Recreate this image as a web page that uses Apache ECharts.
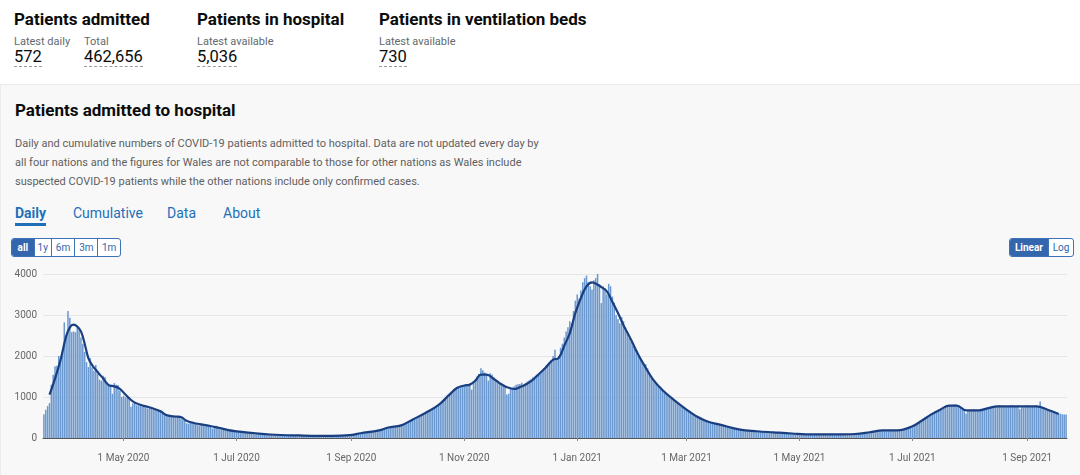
<!DOCTYPE html>
<html><head><meta charset="utf-8">
<script src="https://cdn.jsdelivr.net/npm/echarts@6/dist/echarts.min.js"></script>
<style>
body{margin:0;width:1080px;height:475px;overflow:hidden;background:#fff;font-family:Roboto,"Noto Sans",sans-serif;color:#0b0c0c;position:relative}
.a{position:absolute;white-space:nowrap}
.h{font-size:17px;font-weight:700;line-height:20px}
.lbl{font-size:11px;color:#626a6e;line-height:13px}
.num{font-size:16.5px;line-height:18px;border-bottom:1px dashed #9a9a9a}
#panel{position:absolute;left:0;top:84px;width:1079px;height:391px;background:#f8f8f8;border-top:1px solid #ececec;border-left:1px solid #ececec}
.desc{font-size:11px;line-height:19px;color:#5f5f5f}
.tab{font-size:14px;line-height:16px;color:#1d70b8}
.tab.on{font-weight:700;border-bottom:3px solid #1d70b8;padding-bottom:2px}
.grp{position:absolute;top:238px;height:17px;display:flex;border:1px solid #3d72b8;border-radius:3px;overflow:hidden;background:#fff}
.grp span{font-size:10px;line-height:17px;color:#2f65ad;text-align:center;border-left:1px solid #3d72b8;box-sizing:border-box}
.grp span:first-child{border-left:none}
.grp span.on{background:#3466ae;color:#fff;font-weight:700}
#chart{position:absolute;left:0;top:262px;width:1080px;height:213px}
</style></head>
<body>
<div class="a h" style="left:14px;top:9px">Patients admitted</div>
<div class="a lbl" style="left:14px;top:35px">Latest daily</div>
<div class="a lbl" style="left:84px;top:35px">Total</div>
<div class="a num" style="left:14px;top:48px">572</div>
<div class="a num" style="left:84px;top:48px">462,656</div>
<div class="a h" style="left:197px;top:9px">Patients in hospital</div>
<div class="a lbl" style="left:197px;top:35px">Latest available</div>
<div class="a num" style="left:197px;top:48px">5,036</div>
<div class="a h" style="left:379px;top:9px">Patients in ventilation beds</div>
<div class="a lbl" style="left:379px;top:35px">Latest available</div>
<div class="a num" style="left:379px;top:48px">730</div>
<div id="panel"></div>
<div class="a h" style="left:15px;top:100px">Patients admitted to hospital</div>
<div class="a desc" style="left:15px;top:134px">Daily and cumulative numbers of COVID-19 patients admitted to hospital. Data are not updated every day by<br>all four nations and the figures for Wales are not comparable to those for other nations as Wales include<br>suspected COVID-19 patients while the other nations include only confirmed cases.</div>
<div class="a tab on" style="left:15px;top:205px">Daily</div>
<div class="a tab" style="left:73px;top:205px">Cumulative</div>
<div class="a tab" style="left:167px;top:205px">Data</div>
<div class="a tab" style="left:223px;top:205px">About</div>
<div class="grp" style="left:11px;width:108px"><span class="on" style="width:22px">all</span><span style="width:17px">1y</span><span style="width:24px">6m</span><span style="width:23px">3m</span><span style="width:23px">1m</span></div>
<div class="grp" style="left:1009px;width:63px"><span class="on" style="width:38px">Linear</span><span style="width:25px">Log</span></div>
<div id="chart"></div>
<script>
// first day of the daily series
const startDate = '2020-03-19';
// daily COVID-19 hospital admissions, one row per month
const dailyAdmissions = [
  580,690,780,850,1300,1540,1750,1760,2000,1900,2100,2820,2480, // Mar 2020 (from 19th)
  3100,2930,2580,2600,2580,2740,2650,2450,2300,2100,1850,1730,1950,1720,1640,1780,1560,1420,1400,1520,1490,1330,1290,1300,1080,1340,1300,1290,1150,1000, // Apr
  1030,990,1010,980,760,840,860,800,790,780,770,760,740,720,740,730,700,690,680,660,640,600,560,560,540,560,540,510,490,500,550, // May
  470,450,420,360,350,370,390,360,350,320,300,340,330,300,290,280,290,230,280,300,270,250,240,230,210,200,190,180,170,160, // Jun
  160,150,150,140,130,130,125,120,120,115,110,105,100,95,95,90,90,85,85,80,80,80,75,75,75,70,70,70,70,65,65, // Jul
  65,65,60,60,60,60,60,55,55,55,55,55,55,50,50,50,50,50,45,45,50,50,55,50,55,55,60,60,65,70,75, // Aug
  80,85,95,100,105,115,120,130,140,150,160,165,170,175,180,190,200,210,225,240,255,270,280,290,295,300,305,320,340,360, // Sep
  390,410,430,450,470,490,510,530,560,580,610,640,660,690,720,750,780,810,840,870,900,940,980,1050,1100,1150,1190,1220,1250,1280,1270, // Oct
  1290,1320,1300,1340,1180,1360,1420,1500,1560,1700,1650,1600,1560,1400,1580,1550,1480,1420,1400,1330,1300,1280,1250,1060,1080,1200,1230,1260,1300,1310, // Nov
  1320,1350,1300,1340,1380,1400,1430,1480,1500,1540,1560,1600,1640,1700,1760,1800,1850,1900,2000,2150,1950,2000,2200,2300,2450,2600,2700,2850,2800,3100,3350, // Dec
  3500,3400,3600,3800,3900,3960,3800,3700,3620,3850,3900,4130,3750,3290,3700,3650,3500,3760,3700,3450,3300,3000,2900,2800,2950,2850,2700,2550,2450,2350,2250, // Jan 2021
  2200,2150,2000,1950,1850,1750,1800,1700,1600,1500,1420,1350,1300,1250,1250,1180,1120,1080,1030,980,960,930,900,840,800,770,740,720, // Feb
  690,660,640,600,580,550,540,520,500,470,440,420,400,380,370,360,350,340,330,310,300,290,280,270,260,250,240,230,215,205,195, // Mar
  190,185,175,170,165,160,160,155,150,148,145,142,140,140,138,138,135,132,130,128,125,122,120,118,115,112,110,108,105,102, // Apr
  100,98,96,95,93,92,90,90,89,88,87,86,85,85,85,84,84,85,86,86,87,88,89,90,91,92,93,94,95,96,98, // May
  100,105,110,115,120,125,130,135,140,148,155,162,170,176,182,187,190,190,188,187,186,186,187,190,200,215,230,245,260,275, // Jun
  290,320,350,380,410,440,470,500,530,560,590,610,640,660,680,700,720,740,760,780,790,800,810,820,800,780,760,740,710,600,670, // Jul
  680,690,700,680,670,680,690,700,720,740,750,760,770,770,780,790,800,790,780,770,760,780,790,800,760,780,790,700,780,750,790, // Aug
  790,780,770,780,760,800,780,890,760,740,700,700,680,670,650,630,620,600,590,580,575,572 // Sep (to 22nd)
];
// 7-day average line
const avgLine = [
  ['2020-03-22',1057],['2020-03-25',1450],['2020-03-28',1910],['2020-03-31',2480],['2020-04-02',2700],['2020-04-04',2764],
  ['2020-04-06',2720],['2020-04-08',2600],['2020-04-10',2300],['2020-04-12',1950],['2020-04-14',1780],['2020-04-17',1610],
  ['2020-04-20',1450],['2020-04-23',1290],['2020-04-26',1260],['2020-04-29',1200],['2020-05-02',1060],['2020-05-06',894],
  ['2020-05-10',810],['2020-05-13',772],['2020-05-17',720],['2020-05-21',650],['2020-05-24',560],['2020-05-28',528],
  ['2020-06-01',510],['2020-06-04',420],['2020-06-08',366],['2020-06-11',340],['2020-06-15',309],['2020-06-18',280],
  ['2020-06-22',244],['2020-06-26',200],['2020-07-01',163],['2020-07-10',122],['2020-07-19',85],['2020-08-04',62],
  ['2020-08-22',50],['2020-08-31',68],['2020-09-06',115],['2020-09-16',187],['2020-09-21',255],['2020-09-28',309],
  ['2020-10-04',447],['2020-10-11',610],['2020-10-18',800],['2020-10-24',1057],['2020-10-28',1220],['2020-11-01',1280],
  ['2020-11-04',1300],['2020-11-07',1400],['2020-11-10',1545],['2020-11-13',1545],['2020-11-17',1440],['2020-11-20',1340],
  ['2020-11-24',1240],['2020-11-28',1195],['2020-12-01',1240],['2020-12-04',1300],['2020-12-08',1420],['2020-12-11',1545],
  ['2020-12-15',1720],['2020-12-19',1910],['2020-12-22',1950],['2020-12-25',2250],['2020-12-28',2560],['2020-12-31',3050],
  ['2021-01-03',3414],['2021-01-06',3700],['2021-01-09',3797],['2021-01-12',3740],['2021-01-14',3680],['2021-01-17',3577],
  ['2021-01-20',3320],['2021-01-23',3049],['2021-01-26',2750],['2021-01-30',2400],['2021-02-03',2030],['2021-02-06',1789],
  ['2021-02-11',1423],['2021-02-16',1170],['2021-02-22',935],['2021-03-01',691],['2021-03-06',540],['2021-03-12',407],
  ['2021-03-19',325],['2021-03-30',203],['2021-04-08',165],['2021-04-17',138],['2021-04-27',110],['2021-05-08',89],
  ['2021-05-20',88],['2021-05-31',98],['2021-06-08',140],['2021-06-15',187],['2021-06-23',187],['2021-07-01',285],
  ['2021-07-06',420],['2021-07-11',569],['2021-07-16',690],['2021-07-21',789],['2021-07-25',789],['2021-07-30',675],
  ['2021-08-06',675],['2021-08-11',730],['2021-08-16',772],['2021-08-28',772],['2021-09-06',772],['2021-09-12',690],
  ['2021-09-18',585]
];
const tickDates = ['2020-05-01','2020-07-01','2020-09-01','2020-11-01','2021-01-01','2021-03-01','2021-05-01','2021-07-01','2021-09-01'];
const tickLabels = ['1 May 2020','1 Jul 2020','1 Sep 2020','1 Nov 2020','1 Jan 2021','1 Mar 2021','1 May 2021','1 Jul 2021','1 Sep 2021'];
const yTicks = {min:0, max:4000, interval:1000};

// consecutive calendar dates for the categories
const categories = [];
{
  const d0 = new Date(startDate + 'T00:00:00Z');
  for (let i = 0; i < dailyAdmissions.length; i++) {
    const d = new Date(d0.getTime() + i * 86400000);
    categories.push(d.toISOString().slice(0, 10));
  }
}
const labelOf = {};
tickDates.forEach((d, i) => labelOf[d] = tickLabels[i]);
const isTick = (i, v) => labelOf[v] !== undefined;

const chart = echarts.init(document.getElementById('chart'));
chart.setOption({
  animation: false,
  grid: {left: 43, right: 13, top: 12, bottom: 37},
  xAxis: [{
    type: 'category', data: categories, offset: 8,
    axisLine: {show: false},
    axisTick: {show: true, length: 3, alignWithLabel: true, interval: isTick, lineStyle: {color: '#8a8a8a'}},
    axisLabel: {interval: isTick, margin: 7, color: '#666', fontSize: 10, fontFamily: 'Roboto', formatter: v => labelOf[v] || ''}
  }, {
    type: 'category', data: categories, position: 'bottom',
    axisLine: {show: true, lineStyle: {color: '#555', width: 1}},
    axisTick: {show: false}, axisLabel: {show: false}
  }],
  yAxis: {
    type: 'value', min: yTicks.min, max: yTicks.max, interval: yTicks.interval,
    axisLine: {show: false}, axisTick: {show: false},
    axisLabel: {color: '#666', fontSize: 10, margin: 6, fontFamily: 'Roboto', formatter: v => String(v)},
    splitLine: {lineStyle: {color: '#e6e6e6'}}
  },
  series: [{
    type: 'bar', data: dailyAdmissions, xAxisIndex: 0,
    barCategoryGap: '18%', itemStyle: {color: '#6b98cf'}
  }, {
    type: 'line', data: avgLine, xAxisIndex: 0, smooth: 0.4,
    showSymbol: false, symbol: 'none',
    lineStyle: {color: '#1a3f80', width: 2.2}
  }]
});
</script>
</body></html>
